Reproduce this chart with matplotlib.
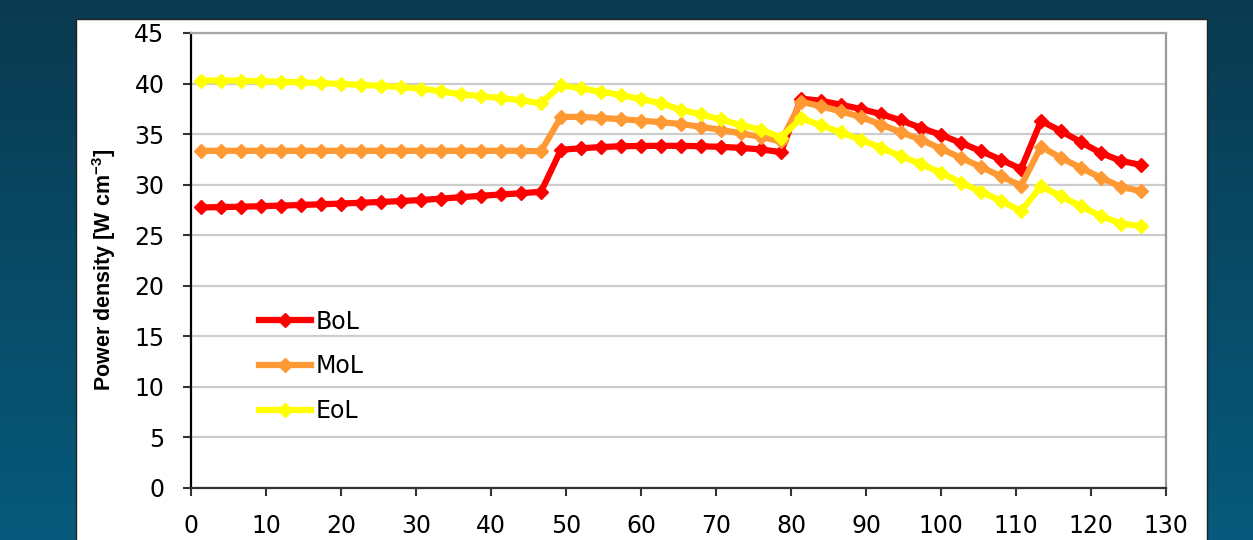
import numpy as np
import matplotlib
matplotlib.use('Agg')
import matplotlib.pyplot as plt
from matplotlib.patches import Rectangle
from matplotlib.colors import LinearSegmentedColormap

plt.rcParams['mathtext.fontset'] = 'custom'
plt.rcParams['mathtext.rm'] = 'Liberation Sans'
plt.rcParams['mathtext.bf'] = 'Liberation Sans:bold'

# axial node positions (cm)
x_pos = [1.33, 4.0, 6.67, 9.33, 12.0, 14.67, 17.33, 20.0, 22.67, 25.33, 28.0, 30.67,
         33.33, 36.0, 38.67, 41.33, 44.0, 46.67, 49.33, 52.0, 54.67, 57.33, 60.0, 62.67,
         65.33, 68.0, 70.67, 73.33, 76.0, 78.67, 81.33, 84.0, 86.67, 89.33, 92.0, 94.67,
         97.33, 100.0, 102.67, 105.33, 108.0, 110.67, 113.33, 116.0, 118.67, 121.33, 124.0, 126.67]

# power density, W cm-3
bol = [27.75, 27.78, 27.82, 27.87, 27.93, 27.99, 28.06, 28.13, 28.21, 28.29, 28.38, 28.48,
       28.62, 28.76, 28.9, 29.03, 29.15, 29.3,
       33.45, 33.6, 33.72, 33.8, 33.83, 33.84, 33.84, 33.8, 33.74, 33.64, 33.48, 33.22,
       38.5, 38.3, 37.9, 37.48, 36.98, 36.35, 35.62, 34.92, 34.12, 33.32, 32.47, 31.55,
       36.3, 35.3, 34.2, 33.12, 32.35, 31.95]
mol = [33.35, 33.35, 33.35, 33.35, 33.35, 33.35, 33.35, 33.35, 33.35, 33.35, 33.35, 33.35,
       33.35, 33.35, 33.35, 33.35, 33.35, 33.3,
       36.7, 36.7, 36.6, 36.48, 36.33, 36.18, 36.0, 35.72, 35.42, 35.07, 34.72, 34.28,
       38.2, 37.75, 37.25, 36.68, 35.95, 35.18, 34.45, 33.55, 32.65, 31.75, 30.82, 29.9,
       33.75, 32.65, 31.65, 30.68, 29.78, 29.36]
eol = [40.3, 40.3, 40.27, 40.23, 40.18, 40.12, 40.05, 39.96, 39.87, 39.77, 39.65, 39.5,
       39.23, 38.93, 38.74, 38.57, 38.34, 38.05,
       39.83, 39.52, 39.2, 38.86, 38.46, 38.05, 37.4, 36.95, 36.45, 35.88, 35.44, 34.66,
       36.58, 35.86, 35.17, 34.44, 33.64, 32.8, 32.05, 31.18, 30.2, 29.3, 28.4, 27.38,
       29.84, 28.85, 27.86, 26.88, 26.15, 25.9]

labels = ['BoL', 'MoL', 'EoL']
colors = ['#ff0000', '#ff9933', '#ffff00']

fig = plt.figure(figsize=(12.53, 5.4), dpi=100)

# slide background + white panel
bg = fig.add_axes([0, 0, 1, 1], zorder=0)
grad = np.linspace(0, 1, 256).reshape(-1, 1)
cmap = LinearSegmentedColormap.from_list('bg', ['#0a3a50', '#075a7c'])
bg.imshow(grad, aspect='auto', cmap=cmap, extent=[0, 1, 0, 1], origin='upper')
bg.add_patch(Rectangle((0.0607, -0.05), 0.9027, 1.0148, facecolor='white',
                       edgecolor='#222222', lw=1))
bg.set_xlim(0, 1)
bg.set_ylim(0, 1)
bg.axis('off')

ax = fig.add_axes([0.1524, 0.0963, 0.7782, 0.8426], zorder=1)
for vals, lab, col in zip([bol, mol, eol], labels, colors):
    ax.plot(x_pos, vals, color=col, lw=4.5, marker='D', ms=7, label=lab,
            solid_joinstyle='round')

ax.set_xlim(0, 130)
ax.set_ylim(0, 45)
ax.set_xticks(range(0, 131, 10))
ax.set_yticks(range(0, 46, 5))
ax.yaxis.grid(True, color='#cccccc', lw=1.6)
ax.set_axisbelow(True)

ax.spines['left'].set_color('black')
ax.spines['left'].set_linewidth(1.6)
ax.spines['bottom'].set_color('#333333')
ax.spines['bottom'].set_linewidth(1.6)
ax.spines['top'].set_color('#a6a6a6')
ax.spines['top'].set_linewidth(1.6)
ax.spines['right'].set_color('#999999')
ax.spines['right'].set_linewidth(1.6)

ax.tick_params(axis='both', direction='out', length=6, width=1.5, color='#333333',
               labelsize=17)
ax.tick_params(axis='y', pad=13)
ax.tick_params(axis='x', pad=13)

ax.set_ylabel(r'Power density [W cm$^{\mathbf{-3}}$]', fontsize=15.5, fontweight='bold',
              family='Liberation Sans')
ax.yaxis.set_label_coords(-0.075, 0.479)

ax.legend(loc='upper left', bbox_to_anchor=(0.070, 0.392), frameon=False, fontsize=17,
          handlelength=2.2, handletextpad=0.2, labelspacing=0.88, borderpad=0,
          borderaxespad=0)

fig.savefig('out.png', dpi=100)
